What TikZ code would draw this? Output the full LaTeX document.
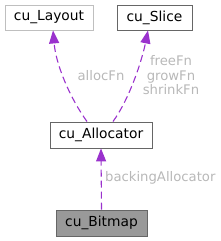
\documentclass[tikz,border=0pt]{standalone}
\usepackage{fontspec}
\setmainfont{DejaVu Sans}
\usetikzlibrary{arrows.meta}
\definecolor{edgec}{HTML}{9A32CD}
\definecolor{lblc}{HTML}{B8B8B8}
\definecolor{bdark}{HTML}{666666}
\definecolor{blight}{HTML}{BFBFBF}
\definecolor{bfill}{HTML}{999999}
\tikzset{
  box/.style={draw=bdark, line width=0.9pt, fill=white, minimum height=25pt, inner sep=0pt, font=\fontsize{13.8}{15}\selectfont},
  edge/.style={draw=edgec, line width=1.1pt, dash pattern=on 7pt off 4pt, -{Triangle[length=13pt,width=10pt]}},
  lbl/.style={text=lblc, font=\fontsize{13.2}{14.5}\selectfont, inner sep=0pt}
}
\begin{document}
\begin{tikzpicture}[x=1pt,y=-1pt]
\useasboundingbox (0,0) rectangle (220,241);
\node[box, draw=blight, minimum width=88pt] (layout) at (49,17.5) {cu\_Layout};
\node[box, minimum width=75pt] (slice) at (154.5,17.5) {cu\_Slice};
\node[box, minimum width=102pt, minimum height=26pt] (alloc) at (101,135) {cu\_Allocator};
\node[box, fill=bfill, minimum width=91pt, minimum height=26pt] (bitmap) at (101.5,223) {cu\_Bitmap};
\draw[edge] ([xshift=-14pt]alloc.north) .. controls (70,98) and (56,65) .. ([xshift=4pt]layout.south);
\draw[edge] ([xshift=12pt]alloc.north) .. controls (130,98) and (142,60) .. ([xshift=-6.5pt]slice.south);
\draw[edge] (bitmap.north) -- (alloc.south);
\node[lbl] (l1) at (101,76) {allocFn};
\node[lbl, align=center] (l2) at (171,75.5) {freeFn\\growFn\\shrinkFn};
\node[lbl, anchor=west] (l3) at (105,178) {backingAllocator};
\end{tikzpicture}
\end{document}
